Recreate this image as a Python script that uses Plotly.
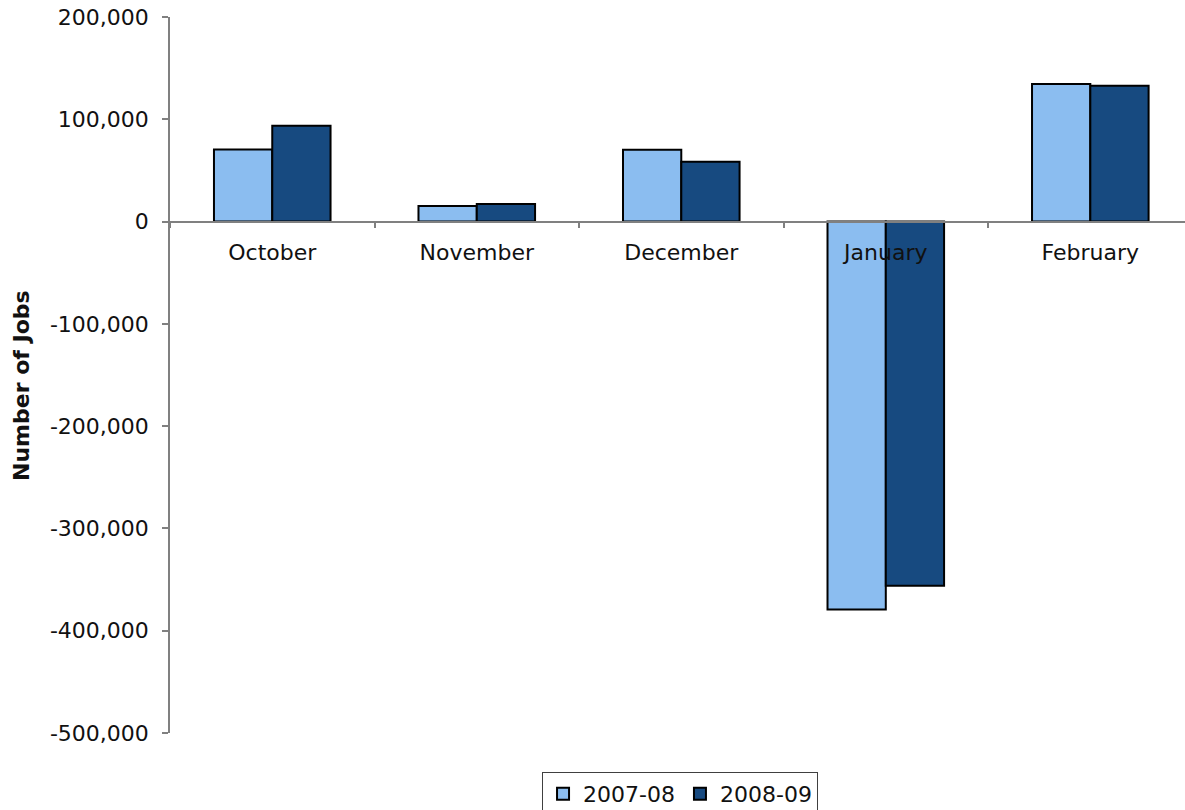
import plotly.graph_objects as go

months = ["October", "November", "December", "January", "February"]
series_2007_08 = [70400, 15300, 70100, -379300, 134600]
series_2008_09 = [93800, 17300, 58400, -356100, 132900]
y_ticks = [200000, 100000, 0, -100000, -200000, -300000, -400000, -500000]
y_tick_text = ["200,000", "100,000", "0", "-100,000", "-200,000", "-300,000", "-400,000", "-500,000"]

W, H = 1185, 810
ML, MT, MB, MR = 170, 17, 77, 0
plot_h = H - MT - MB
zero_pos = 500000 / 700000  # fraction of plot height where y=0

FONT = "DejaVu Sans"

fig = go.Figure()
fig.add_trace(go.Bar(name="2007-08", x=months, y=series_2007_08,
                     marker=dict(color="#8BBDF0", line=dict(color="#000000", width=2))))
fig.add_trace(go.Bar(name="2008-09", x=months, y=series_2008_09,
                     marker=dict(color="#174A80", line=dict(color="#000000", width=2))))

fig.update_layout(
    width=W, height=H,
    margin=dict(l=ML, r=MR, t=MT, b=MB, pad=0, autoexpand=False),
    paper_bgcolor="white", plot_bgcolor="white",
    barmode="group", bargap=0.43, bargroupgap=0,
    font=dict(family=FONT, size=22, color="#111111"),
    showlegend=True,
    legend=dict(orientation="h", x=0.5025, xanchor="center", y=(H - MB - 772) / plot_h,
                yanchor="top",
                bordercolor="#404040", borderwidth=1, font=dict(size=22),
                itemwidth=30, tracegroupgap=0),
    xaxis=dict(
        type="category", range=[-0.5, 4.463],
        anchor="free", position=zero_pos,
        showline=True, linecolor="#808080", linewidth=1.5,
        ticks="outside", ticklen=6, tickcolor="#808080", tickwidth=1.5,
        tickson="boundaries", showgrid=False, zeroline=False,
        ticklabelstandoff=11,
    ),
    yaxis=dict(
        range=[-500000, 200000], tickvals=y_ticks, ticktext=y_tick_text,
        showline=True, linecolor="#808080", linewidth=1.5,
        ticks="outside", ticklen=6, tickcolor="#808080", tickwidth=1.5,
        showgrid=False, zeroline=False, ticklabelstandoff=9,
    ),
    annotations=[dict(
        text="<b>Number of Jobs</b>", textangle=-90,
        xref="paper", yref="paper",
        x=(21 - ML) / (W - ML - MR), y=(H - MB - 386) / plot_h,
        xanchor="center", yanchor="middle", showarrow=False,
        font=dict(family=FONT, size=22, color="#111111"),
    )],
)

fig.write_html("out.html")
